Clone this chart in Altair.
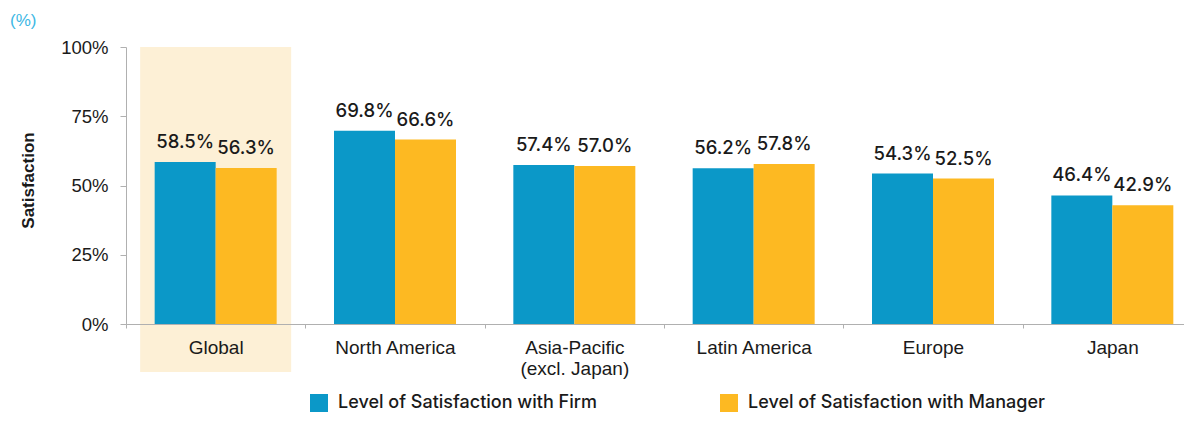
import altair as alt
import pandas as pd

regions = ["Global", "North America", "Asia-Pacific (excl. Japan)", "Latin America", "Europe", "Japan"]
firm = [58.5, 69.8, 57.4, 56.2, 54.3, 46.4]
manager = [56.3, 66.6, 57.0, 57.8, 52.5, 42.9]
series = ["Level of Satisfaction with Firm", "Level of Satisfaction with Manager"]
highlight = ["Global"]
y_ticks = [0, 25, 50, 75, 100]

rows = []
for r, f, m in zip(regions, firm, manager):
    rows.append({"region": r, "series": series[0], "value": f})
    rows.append({"region": r, "series": series[1], "value": m})
df = pd.DataFrame(rows)
hl = pd.DataFrame({"region": highlight})

FONT = "Liberation Sans"
MFONT = "Inter"
TXT = "#1a1a1a"
GRAY = "#b0b0b0"

x_scale = alt.Scale(domain=regions, paddingInner=0, paddingOuter=0, range=[0, 1076])
y_scale = alt.Scale(domain=[0, 100])
color_scale = alt.Scale(domain=series, range=["#0B98C8", "#FDB922"])
off_scale = alt.Scale(domain=series, paddingOuter=0.47, paddingInner=0)

x_axis = alt.Axis(
    title=None, labelAngle=0, labelFontSize=19, labelFont=FONT, labelColor=TXT,
    labelPadding=10, labelLineHeight=21, labelBaseline="top", tickBand="extent",
    tickSize=4, tickColor=GRAY, domainColor=GRAY, zindex=1,
    labelExpr="datum.label == 'Asia-Pacific (excl. Japan)' ? ['Asia-Pacific', '(excl. Japan)'] : datum.label",
)
y_axis = alt.Axis(
    values=y_ticks, labelExpr="datum.value + '%'", grid=False,
    title="Satisfaction", titleFontSize=17, titleFontWeight="bold", titleFont=FONT,
    titleColor=TXT, titleX=-98, titleY=133, titleAngle=-90, titleAlign="center",
    titleBaseline="middle", labelFontSize=18.5, labelFont=FONT, labelColor=TXT,
    labelPadding=12, tickSize=6, tickColor=GRAY, domainColor=GRAY,
)

hl_layer = alt.Chart(hl).mark_bar(width=151, color="#FDF0D6").encode(
    x=alt.X("region:N", scale=x_scale, axis=x_axis),
    y=alt.value(0),
    y2=alt.value(325),
)

bars = alt.Chart(df).mark_bar().encode(
    x=alt.X("region:N", scale=x_scale, axis=x_axis),
    xOffset=alt.XOffset("series:N", scale=off_scale),
    y=alt.Y("value:Q", scale=y_scale, axis=y_axis),
    color=alt.Color(
        "series:N", scale=color_scale,
        legend=alt.Legend(
            orient="none", legendX=184, legendY=347, direction="horizontal",
            title=None, symbolType="square", symbolSize=324, symbolStrokeWidth=0,
            labelFontSize=18, labelFont=MFONT, labelFontWeight=500, labelColor=TXT,
            columnPadding=123, labelOffset=10, labelLimit=500,
        ),
    ),
)

labels = alt.Chart(df).transform_calculate(
    label="format(datum.value, '.1f') + '%'"
).mark_text(
    dy=-14, baseline="alphabetic", fontSize=18.5, font=MFONT, fontWeight=500, color=TXT
).encode(
    x=alt.X("region:N", scale=x_scale, axis=x_axis),
    xOffset=alt.XOffset("series:N", scale=off_scale),
    y=alt.Y("value:Q", scale=y_scale, axis=y_axis),
    text="label:N",
)

chart = alt.layer(hl_layer, bars, labels).properties(
    width=1058, height=277,
    autosize=alt.AutoSizeParams(type="none"),
    padding={"left": 118, "top": 39, "right": 0, "bottom": 89},
    title=alt.Title("(%)", anchor="start", frame="group", dx=-116, fontSize=17,
                    color="#3DB7E4", fontWeight="normal", font=FONT, offset=8),
).configure_view(stroke=None)

chart.save("out.html", embed_options={"renderer": "svg", "actions": False})
